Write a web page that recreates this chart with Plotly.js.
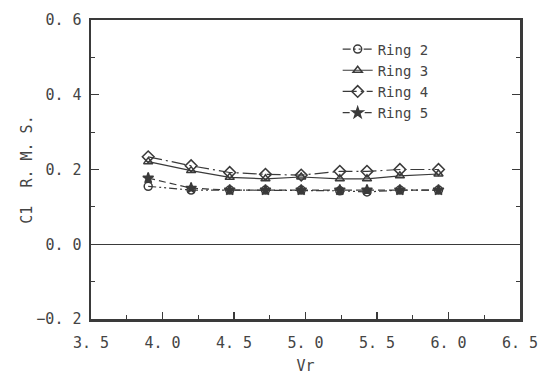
<!DOCTYPE html>
<html><head><meta charset="utf-8">
<script src="https://cdn.plot.ly/plotly-3.0.1.min.js"></script>
<style>body{margin:0;background:#fff}#c{width:544px;height:376px}</style>
</head><body><div id="c"></div>
<script>
var vr = [3.9, 4.2, 4.47, 4.72, 4.97, 5.24, 5.43, 5.66, 5.93];
var ring2 = [0.155, 0.145, 0.145, 0.145, 0.145, 0.143, 0.140, 0.145, 0.145];
var ring3 = [0.221, 0.197, 0.179, 0.175, 0.180, 0.175, 0.175, 0.183, 0.188];
var ring4 = [0.234, 0.210, 0.192, 0.187, 0.185, 0.195, 0.195, 0.200, 0.200];
var ring5 = [0.177, 0.150, 0.145, 0.145, 0.145, 0.145, 0.145, 0.145, 0.145];
var names = ['Ring 2', 'Ring 3', 'Ring 4', 'Ring 5'];

var ink = '#3a3a3a';
function tr(y, name, dash, sym, sz) {
  return {x: vr, y: y, name: name, type: 'scatter', mode: 'lines+markers',
    line: {color: ink, width: 1.2, dash: dash},
    marker: {symbol: sym, size: sz, color: ink, line: {color: ink, width: 1.5}}};
}
var data = [
  tr(ring2, names[0], '8px,3px,2px,3px,2px,3px', 'circle-open', 8),
  tr(ring3, names[1], 'solid', 'triangle-up-open', 8),
  tr(ring4, names[2], '14px,4px,2px,4px', 'diamond-open', 9),
  tr(ring5, names[3], '7px,4px', 'star', 8)
];
var font = {family: 'DejaVu Sans Mono, monospace', size: 15, color: '#444'};
var layout = {
  width: 544, height: 376,
  margin: {l: 91, r: 24, t: 20, b: 57},
  paper_bgcolor: '#fff', plot_bgcolor: '#fff',
  font: font, showlegend: true,
  legend: {x: 0.575, y: 0.955, xanchor: 'left', yanchor: 'top', bgcolor: 'rgba(0,0,0,0)',
    font: {family: 'DejaVu Sans Mono, monospace', size: 14, color: '#444'},
    tracegroupgap: 0, itemwidth: 30},
  xaxis: {range: [3.5, 6.5], tickvals: [3.5, 4.0, 4.5, 5.0, 5.5, 6.0, 6.5],
    ticktext: ['3. 5', '4. 0', '4. 5', '5. 0', '5. 5', '6. 0', '6. 5'],
    ticks: 'inside', ticklen: 7, tickcolor: ink, tickwidth: 1.2,
    ticklabelstandoff: 8,
    minor: {dtick: 0.25, ticks: 'inside', ticklen: 4, tickcolor: ink, tickwidth: 1},
    showline: true, linecolor: ink, linewidth: 2.5, mirror: true,
    showgrid: false, zeroline: false,
    title: {text: 'Vr', font: font, standoff: 10}},
  yaxis: {range: [-0.2, 0.6], tickvals: [-0.2, 0, 0.2, 0.4, 0.6],
    ticktext: ['\u22120. 2', '0. 0', '0. 2', '0. 4', '0. 6'],
    ticks: 'inside', ticklen: 8, tickcolor: ink, tickwidth: 1.2,
    ticklabelstandoff: 4,
    minor: {dtick: 0.1, ticks: 'inside', ticklen: 4, tickcolor: ink, tickwidth: 1},
    showline: true, linecolor: ink, linewidth: 2.5, mirror: 'ticks',
    showgrid: false, zeroline: true, zerolinecolor: ink, zerolinewidth: 1,
    title: {text: 'C1  R. M. S.', font: font, standoff: 0}}
};
Plotly.newPlot('c', data, layout, {staticPlot: true});
</script></body></html>
